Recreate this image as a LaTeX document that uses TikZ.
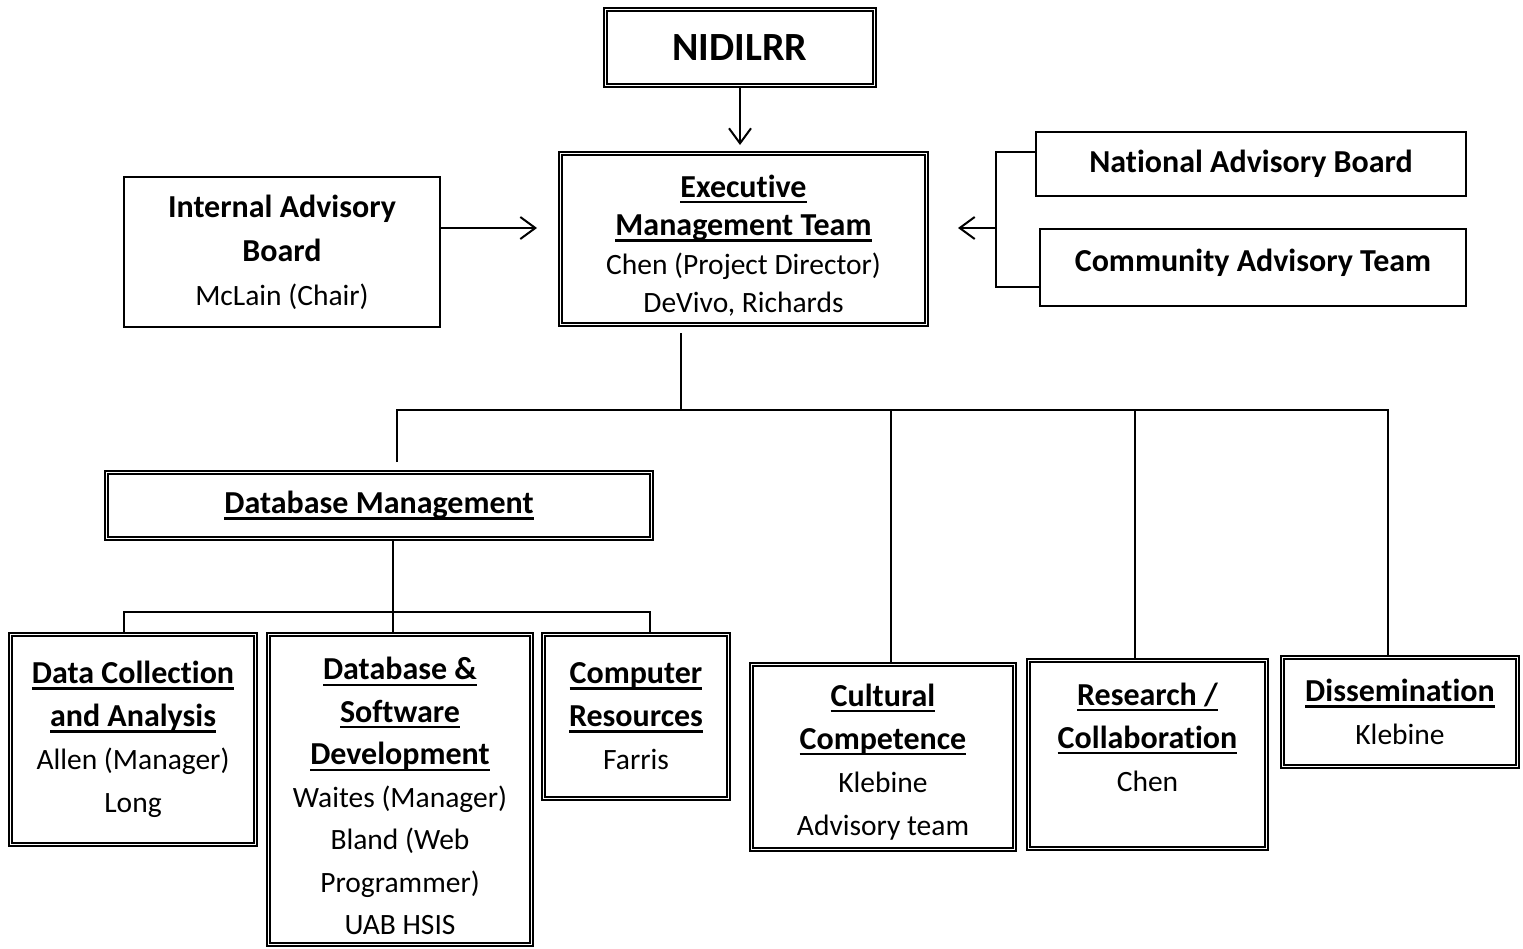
\documentclass[tikz,border=0pt]{standalone}
\usepackage{fontspec}
\setmainfont{Carlito}[Ligatures=NoCommon]
\usetikzlibrary{arrows.meta}
\newcommand{\orgbold}[1]{{\fontsize{32}{43}\selectfont\bfseries #1}}
\newcommand{\orghead}[1]{\orgbold{\sbox0{#1}\rlap{\rule[-6pt]{\wd0}{2.4pt}}\usebox0}}

\tikzset{
  boxtext/.style={align=center, inner sep=0pt, font=\fontsize{29.5}{43}\selectfont},
  dblbox/.style={boxtext, draw, double, line width=1.4pt, double distance=1.8pt, outer sep=2.5pt},
  sglbox/.style={boxtext, draw, line width=2pt},
  wire/.style={line width=2pt},
  wirearrow/.style={wire, -{Straight Barb[length=15pt, width=22pt, line width=2pt]}}
}

\begin{document}
\begin{tikzpicture}[x=1pt, y=-1pt]
\useasboundingbox (0,0) rectangle (1523,948);

% top of the chart
\node[dblbox, minimum width=269pt, minimum height=76pt, font=\fontsize{40}{43}\selectfont\bfseries] (nid) at (740,47.5) {NIDILRR};
\node[dblbox, minimum width=366pt, minimum height=171pt, font=\fontsize{29.5}{38.5}\selectfont] (emt) at (743.5,239) {\rule{0pt}{36pt}\orghead{Executive}\\\orghead{Management Team}\\Chen (Project Director)\\DeVivo, Richards};

\node[sglbox, minimum width=316pt, minimum height=150pt, font=\fontsize{29.5}{44}\selectfont] (iab) at (282,252) {\orgbold{Internal Advisory}\\\orgbold{Board}\\McLain (Chair)};
\node[sglbox, minimum width=430pt, minimum height=64pt] (nab) at (1251,164) {\orgbold{National Advisory Board}};
\node[sglbox, minimum width=426pt, minimum height=77pt] (cat) at (1253,267.5) {\orgbold{Community Advisory Team}\rule[-14pt]{0pt}{0pt}};

% units
\node[dblbox, minimum width=545pt, minimum height=66pt] (dbm) at (379,505.5) {\orghead{Database Management}};
\node[dblbox, minimum width=245pt, minimum height=210pt] (dca) at (133,739.5) {\orghead{Data Collection}\\\orghead{and Analysis}\\Allen (Manager)\\Long};
\node[dblbox, minimum width=263pt, minimum height=310pt, font=\fontsize{29.5}{42.5}\selectfont] (dsd) at (400,789.5) {\rule{0pt}{36pt}\orghead{Database \&}\\\orghead{Software}\\\orghead{Development}\\Waites (Manager)\\Bland (Web\\Programmer)\\UAB HSIS};
\node[dblbox, minimum width=185pt, minimum height=164pt] (cres) at (636,716.5) {\orghead{Computer}\\\orghead{Resources}\\Farris};
\node[dblbox, minimum width=263pt, minimum height=185pt] (ccomp) at (883,757) {\rule{0pt}{32pt}\orghead{Cultural}\\\orghead{Competence}\\Klebine\\Advisory team};
\node[dblbox, minimum width=238pt, minimum height=188pt] (rcol) at (1147.5,754.5) {\orghead{Research /}\\\orghead{Collaboration}\\Chen\\[-8pt]\mbox{}};
\node[dblbox, minimum width=235pt, minimum height=109pt] (diss) at (1400,712) {\orghead{Dissemination}\\Klebine};

% arrows into the team
\draw[wirearrow, shorten >=6pt] (nid.south) -- (nid.south |- emt.north);
\draw[wirearrow, shorten >=21pt] ([yshift=24pt]iab.east) -- ([yshift=24pt]iab.east -| emt.west);
\coordinate (fork) at (996,228);
\draw[wire] ([yshift=12pt]nab.west) -| (fork) |- ([yshift=-19.5pt]cat.west);
\draw[wirearrow, shorten >=29pt] (fork) -- (fork -| emt.east);

% bus to the units
\coordinate (hub) at (681,410);
\draw[wire, shorten >=6pt] (hub) -- (hub |- emt.south);
\draw[wire] ([xshift=18pt,yshift=8pt]dbm.north) |- (hub) -| ([xshift=-12pt]diss.north);
\foreach \n/\dx in {ccomp/8, rcol/-12.5}
  \draw[wire] ([xshift=\dx pt]\n.north) -- ([xshift=\dx pt]\n.north |- hub);

\coordinate (sub) at (393,612);
\draw[wire] ([xshift=14pt]dbm.south) -- (sub);
\draw[wire] ([xshift=-9pt]dca.north) |- (sub) -| ([xshift=14pt]cres.north);
\draw[wire] (sub) -- (sub |- dsd.north);
\end{tikzpicture}
\end{document}
